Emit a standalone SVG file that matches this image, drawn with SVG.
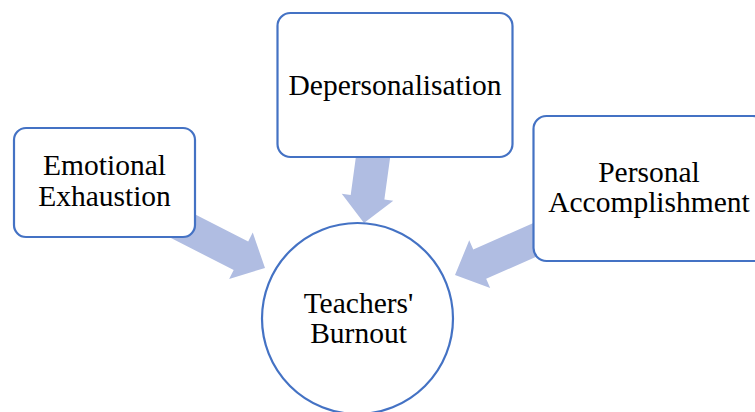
<svg xmlns="http://www.w3.org/2000/svg" width="755" height="412" viewBox="0 0 755 412">
  <style>
    .box { fill: #ffffff; stroke: #4472C4; stroke-width: 2.2; }
    .arrow { fill: #B0BDE2; stroke: none; }
    .lbl { font-family: "Liberation Serif", "Times New Roman", serif; font-size: 29.5px; fill: #000000; text-anchor: middle; }
  </style>
  <rect width="755" height="412" fill="#ffffff"/>
  <g id="connectors">
    <polygon class="arrow" transform="translate(265,268) rotate(27)" points="-110,-16 -27,-16 -27,-26 0,0 -27,26 -27,16 -110,16"/>
    <polygon class="arrow" transform="translate(364,223) rotate(97.8)" points="-90,-17 -26,-17 -26,-26 0,0 -26,26 -26,17 -90,17"/>
    <polygon class="arrow" transform="translate(455,275) rotate(156.25)" points="-110,-16 -27,-16 -27,-26 0,0 -27,26 -27,16 -110,16"/>
  </g>
  <g id="node-emotional-exhaustion">
    <rect class="box" x="14" y="128" width="181" height="109" rx="12"/>
    <text class="lbl" x="104.5" y="175">Emotional</text>
    <text class="lbl" x="104.5" y="206">Exhaustion</text>
  </g>
  <g id="node-depersonalisation">
    <rect class="box" x="277.5" y="13" width="235" height="144" rx="13"/>
    <text class="lbl" x="395" y="95">Depersonalisation</text>
  </g>
  <g id="node-personal-accomplishment">
    <rect class="box" x="533.5" y="116" width="232" height="145" rx="13"/>
    <text class="lbl" x="649" y="182">Personal</text>
    <text class="lbl" x="649" y="212">Accomplishment</text>
  </g>
  <g id="node-teachers-burnout">
    <circle class="box" cx="357.5" cy="318.5" r="95.5"/>
    <text class="lbl" x="358.5" y="313">Teachers'</text>
    <text class="lbl" x="358.5" y="343">Burnout</text>
  </g>
</svg>
